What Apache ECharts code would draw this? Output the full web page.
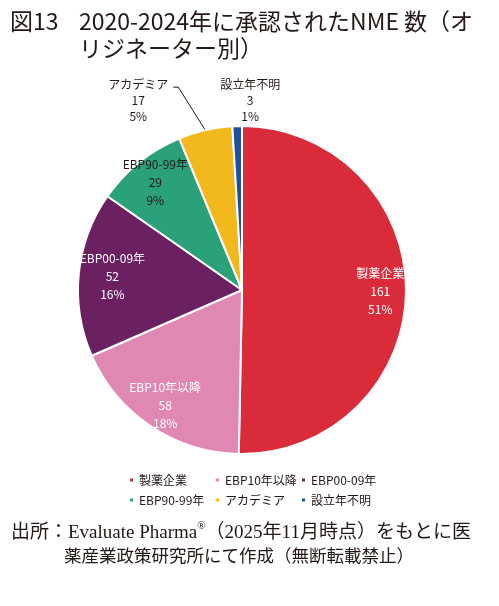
<!DOCTYPE html>
<html>
<head>
<meta charset="utf-8">
<script src="https://cdn.jsdelivr.net/npm/echarts@6/dist/echarts.min.js"></script>
<style>
  html, body { margin: 0; padding: 0; background: #fff; }
  #chart { width: 499px; height: 606px; }
</style>
</head>
<body>
<div id="chart"></div>
<script>
// NME数 オリジネーター別
var names = ['製薬企業', 'EBP10年以降', 'EBP00-09年', 'EBP90-99年', 'アカデミア', '設立年不明'];
var counts = [161, 58, 52, 29, 17, 3];
var shares = [51, 18, 16, 9, 5, 1];
var colors = ['#d92b3a', '#e087b3', '#6b2062', '#2aa07b', '#f2b91d', '#1f4f9f'];
var labelColors = ['#fff', '#fff', '#fff', '#231815', '#231815', '#231815'];

var FONT = '"Noto Sans CJK JP", "Noto Sans", sans-serif';
var SERIF = '"Liberation Serif", "DejaVu Serif", "Noto Sans CJK JP", serif';
var INK = '#231815';
var CX = 242, CY = 290, R = 164;

var chart = echarts.init(document.getElementById('chart'));

var pieData = names.map(function (n, i) {
    return {
        name: n,
        value: counts[i],
        pct: shares[i],
        itemStyle: { color: colors[i] },
        label: { show: i >= 4 },
        labelLine: { show: i >= 4, lineStyle: { color: i == 4 ? INK : 'rgba(0,0,0,0)' } }
    };
});
var innerData = names.map(function (n, i) {
    return {
        name: n,
        value: counts[i],
        pct: shares[i],
        label: { show: i < 4, color: labelColors[i] }
    };
});

function fmt(p) {
    return '{t|' + p.name + '}\n{t|' + p.value + '}\n{t|' + p.data.pct + '%}';
}

// 凡例は3項目ずつ2段
function legendRow(items, top) {
    return {
        left: 128, top: top, padding: 0,
        icon: 'rect', itemWidth: 5, itemHeight: 5, itemGap: 1,
        data: items,
        selectedMode: false,
        formatter: function (n) { return '{a|' + n + '}'; },
        textStyle: {
            color: INK,
            rich: { a: { fontFamily: FONT, fontSize: 12, color: INK, width: 74, lineHeight: 16 } }
        }
    };
}

var option = {
    animation: false,
    title: [{
        text: '図13',
        left: 10, top: 8, padding: 0,
        textStyle: { fontFamily: FONT, fontSize: 23, fontWeight: 'normal', color: INK, lineHeight: 27 }
    }, {
        text: '2020-2024年に承認されたNME 数（オ\nリジネーター別）',
        left: 79, top: 8, padding: 0,
        textStyle: { fontFamily: FONT, fontSize: 23, fontWeight: 'normal', color: INK, lineHeight: 27 }
    }, {
        text: '出所：Evaluate Pharma{s|®}（2025年11月時点）をもとに医',
        left: 11, top: 521, padding: 0,
        textStyle: {
            fontFamily: SERIF, fontSize: 19, fontWeight: 'normal', color: INK, lineHeight: 24,
            rich: { s: { fontFamily: SERIF, fontSize: 11, color: INK, verticalAlign: 'top', padding: [0, 0, 8, 0] } }
        }
    }, {
        text: '薬産業政策研究所にて作成（無断転載禁止）',
        left: 64, top: 545, padding: 0,
        textStyle: { fontFamily: SERIF, fontSize: 17.5, fontWeight: 'normal', color: INK, lineHeight: 24 }
    }],
    legend: [legendRow(names.slice(0, 3), 474), legendRow(names.slice(3), 494)],
    series: [{
        type: 'pie',
        center: [CX, CY], radius: R,
        startAngle: 90, clockwise: true,
        silent: true,
        avoidLabelOverlap: false,
        data: pieData,
        itemStyle: { borderColor: '#fff', borderWidth: 2 },
        label: {
            position: 'outside', formatter: fmt, color: INK,
            rich: { t: { fontFamily: FONT, fontSize: 12, color: INK, width: 66, align: 'center', lineHeight: 16 } }
        },
        labelLine: { length: 20, length2: 6, smooth: false, lineStyle: { width: 1 } },
        labelLayout: function (p) {
            var a = p.labelLinePoints && p.labelLinePoints[0];
            if (!a) return;
            // アカデミア: 左上へ引き出し線
            if (p.dataIndex == 4) {
                return {
                    x: a[0] - 67, y: a[1] - 54, align: 'center', verticalAlign: 'top',
                    labelLinePoints: [a, [a[0] - 27, a[1] - 43], [a[0] - 32, a[1] - 43]]
                };
            }
            // 設立年不明: 真上
            if (p.dataIndex == 5) {
                return { x: a[0] + 13, y: a[1] - 2, align: 'center', verticalAlign: 'bottom' };
            }
        }
    }, {
        type: 'pie',
        center: [CX, CY], radius: [R * 0.65, R],
        startAngle: 90, clockwise: true,
        silent: true,
        data: innerData,
        itemStyle: { color: 'rgba(0,0,0,0)' },
        label: {
            position: 'inside', formatter: fmt,
            rich: { t: { fontFamily: FONT, fontSize: 12, lineHeight: 18, align: 'center' } }
        },
        labelLine: { show: false },
        labelLayout: function (p) {
            if (p.dataIndex == 2) return { dx: 8 };
        }
    }]
};

chart.setOption(option);
</script>
</body>
</html>
